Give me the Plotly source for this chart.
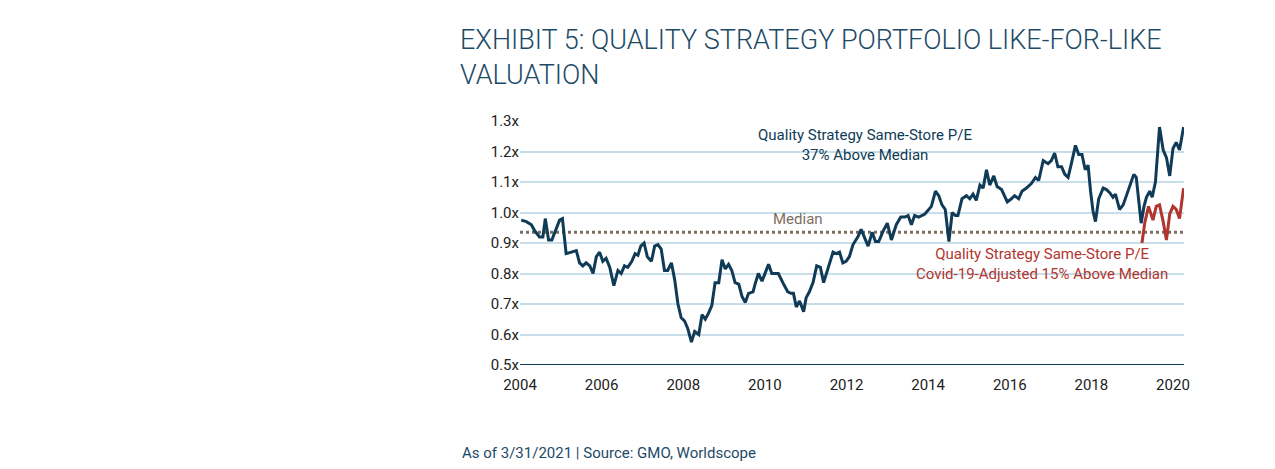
import plotly.graph_objects as go

blue_years = [2004.03,2004.155,2004.28,2004.36,2004.48,2004.56,2004.62,2004.70,2004.78,2004.89,2004.97,2005.04,2005.13,2005.26,2005.38,2005.46,2005.54,2005.62,2005.71,2005.79,2005.87,2005.95,2006.03,2006.11,2006.20,2006.30,2006.40,2006.48,2006.56,2006.64,2006.74,2006.82,2006.89,2006.96,2007.04,2007.12,2007.22,2007.30,2007.38,2007.46,2007.54,2007.62,2007.71,2007.79,2007.87,2007.95,2008.03,2008.11,2008.20,2008.28,2008.38,2008.46,2008.54,2008.62,2008.70,2008.78,2008.87,2008.95,2009.03,2009.11,2009.19,2009.27,2009.36,2009.44,2009.52,2009.60,2009.71,2009.76,2009.84,2009.93,2010.01,2010.09,2010.17,2010.25,2010.33,2010.44,2010.56,2010.64,2010.70,2010.77,2010.85,2010.95,2011.01,2011.09,2011.18,2011.27,2011.36,2011.44,2011.56,2011.67,2011.75,2011.83,2011.91,2011.99,2012.07,2012.16,2012.28,
2012.36,2012.45,2012.53,2012.63,2012.71,2012.79,2012.90,2013.00,2013.10,2013.22,2013.33,2013.43,2013.51,2013.59,2013.67,2013.77,2013.92,2014.08,2014.18,2014.26,2014.34,2014.42,2014.51,2014.59,2014.67,2014.73,2014.83,2014.94,2015.02,2015.10,2015.18,2015.27,2015.35,2015.43,2015.51,2015.61,2015.69,2015.80,2015.94,2016.04,2016.12,2016.22,2016.30,2016.41,2016.53,2016.63,2016.71,2016.82,2016.94,2017.02,2017.10,2017.18,2017.27,2017.35,2017.43,2017.51,2017.61,2017.69,2017.77,2017.85,2017.92,2017.98,2018.04,2018.10,2018.18,2018.29,2018.37,2018.45,2018.53,2018.59,2018.69,2018.78,2018.88,2018.96,2019.04,2019.10,2019.17,2019.22,2019.29,2019.35,2019.43,2019.49,2019.57,2019.67,2019.76,2019.84,2019.92,2020.00,2020.08,2020.16,2020.26]
blue_values = [0.975,0.97,0.96,0.94,0.92,0.92,0.98,0.91,0.91,0.95,0.975,0.98,0.865,0.87,0.875,0.835,0.825,0.835,0.825,0.80,0.855,0.87,0.84,0.85,0.82,0.76,0.81,0.80,0.825,0.82,0.84,0.865,0.86,0.89,0.90,0.855,0.84,0.89,0.895,0.88,0.81,0.81,0.835,0.78,0.70,0.655,0.645,0.62,0.575,0.61,0.60,0.665,0.65,0.67,0.695,0.77,0.77,0.845,0.815,0.83,0.81,0.77,0.765,0.725,0.705,0.735,0.74,0.765,0.80,0.775,0.80,0.83,0.80,0.80,0.80,0.77,0.74,0.735,0.735,0.69,0.71,0.675,0.72,0.74,0.77,0.825,0.82,0.77,0.82,0.87,0.865,0.87,0.835,0.84,0.855,0.895,0.92,
0.945,0.915,0.89,0.935,0.905,0.905,0.94,0.965,0.91,0.96,0.985,0.985,0.99,0.96,0.99,0.985,0.995,1.02,1.07,1.055,1.025,1.01,0.905,1.00,0.99,0.99,1.045,1.055,1.045,1.06,1.04,1.09,1.08,1.14,1.09,1.12,1.085,1.075,1.035,1.045,1.055,1.045,1.07,1.08,1.095,1.115,1.105,1.17,1.16,1.17,1.195,1.15,1.15,1.125,1.115,1.16,1.22,1.19,1.19,1.14,1.155,1.07,1.005,0.97,1.045,1.08,1.075,1.065,1.05,1.06,1.01,1.025,1.065,1.10,1.125,1.115,1.025,0.965,1.02,1.05,1.07,1.05,1.10,1.28,1.205,1.18,1.12,1.21,1.23,1.205,1.28]

red_years = [2019.24,2019.31,2019.40,2019.51,2019.59,2019.67,2019.76,2019.84,2019.92,2020.00,2020.08,2020.16,2020.26]
red_values = [0.90,0.967,1.02,0.975,1.02,1.025,0.97,0.91,0.995,1.02,1.01,0.98,1.08]

median_value = 0.935
x_ticks = [2004,2006,2008,2010,2012,2014,2016,2018,2020]
y_ticks = [0.5,0.6,0.7,0.8,0.9,1.0,1.1,1.2,1.3]
y_labels = ["0.5x","0.6x","0.7x","0.8x","0.9x","1.0x","1.1x","1.2x","1.3x"]

BLUE = "#0f3b57"; RED = "#b1352f"; TAN = "#7d6e60"; GRID = "#c8deea"; TITLE = "#1d4a66"
FONT = "Roboto"
PLOT_TOP, PLOT_BOTTOM = 113, 357
H = PLOT_BOTTOM - PLOT_TOP

def py(pixel):  # paper y for a pixel row
    return (PLOT_BOTTOM - pixel) / H

def px(pixel):
    return (pixel - 512) / (1176 - 512)

fig = go.Figure()
fig.add_trace(go.Scatter(x=[2004, 2020.27], y=[median_value]*2, mode="lines",
                         line=dict(color=TAN, width=3, dash="dot"), hoverinfo="skip"))
fig.add_trace(go.Scatter(x=blue_years, y=blue_values, mode="lines", line=dict(color=BLUE, width=3)))
fig.add_trace(go.Scatter(x=red_years, y=red_values, mode="lines", line=dict(color=RED, width=3)))

fig.update_layout(
    width=1275, height=469, showlegend=False,
    paper_bgcolor="white", plot_bgcolor="white",
    margin=dict(l=512, r=99, t=PLOT_TOP, b=469-PLOT_BOTTOM, autoexpand=False),
    font=dict(family=FONT, color="#333", size=15),
    xaxis=dict(range=[2004, 2020.27], tickvals=x_ticks, showgrid=False, zeroline=False,
               tickfont=dict(size=15, color="#222"), ticks="outside", ticklen=6,
               tickcolor="rgba(0,0,0,0)", showline=False),
    yaxis=dict(range=[0.5, 1.3], tickvals=y_ticks, ticktext=y_labels, showgrid=True,
               gridcolor=GRID, gridwidth=2, zeroline=False, ticks="",
               tickfont=dict(size=15, color="#222")),
    shapes=[dict(type="line", xref="paper", yref="y", x0=0, x1=1, y0=0.5, y1=0.5,
                 line=dict(color=BLUE, width=2))],
    annotations=[
        dict(text="EXHIBIT 5: QUALITY STRATEGY PORTFOLIO LIKE-FOR-LIKE<br>VALUATION",
             x=px(450), y=py(14), xref="paper", yref="paper", xanchor="left", yanchor="top",
             align="left", showarrow=False,
             font=dict(family=FONT, size=27, color=TITLE, weight=300)),
        dict(text="Quality Strategy Same-Store P/E<br>37% Above Median", x=2012.45, y=1.22,
             xref="x", yref="y", showarrow=False, align="center",
             font=dict(family=FONT, size=15, color=BLUE)),
        dict(text="Median", x=2010.8, y=0.98, xref="x", yref="y", showarrow=False,
             font=dict(family=FONT, size=15, color=TAN)),
        dict(text="Quality Strategy Same-Store P/E<br>Covid-19-Adjusted 15% Above Median",
             x=2016.8, y=0.83, xref="x", yref="y", showarrow=False, align="center",
             font=dict(family=FONT, size=15, color=RED)),
        dict(text="As of 3/31/2021 | Source: GMO, Worldscope", x=px(452), y=py(445),
             xref="paper", yref="paper", xanchor="left", yanchor="middle", showarrow=False,
             font=dict(family=FONT, size=15, color=TITLE)),
    ],
)
fig.write_html("out.html")
